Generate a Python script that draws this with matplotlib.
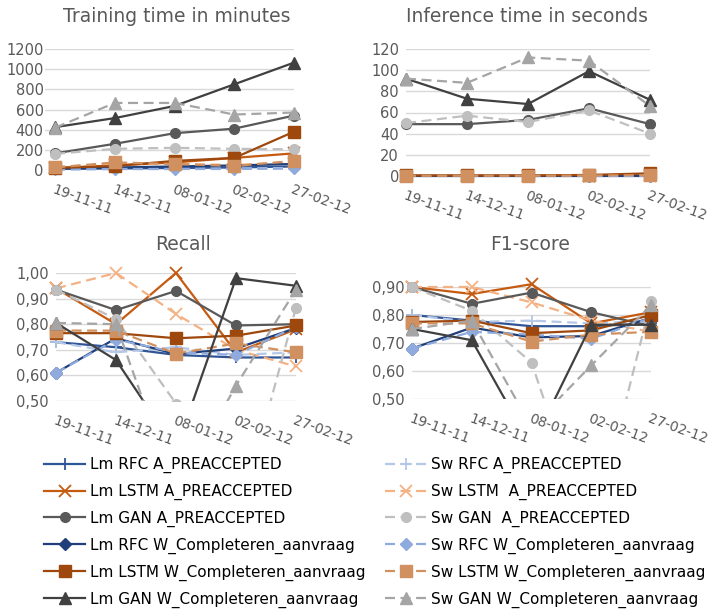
import numpy as np
import matplotlib
matplotlib.use("Agg")
from matplotlib import pyplot as plt
from matplotlib.patches import Rectangle

plt.rcParams["font.family"] = ["DejaVu Sans"]

dates = ["19-11-11", "14-12-11", "08-01-12", "02-02-12", "27-02-12"]

names = ["Lm RFC A_PREACCEPTED", "Lm LSTM A_PREACCEPTED", "Lm GAN A_PREACCEPTED",
         "Lm RFC W_Completeren_aanvraag", "Lm LSTM W_Completeren_aanvraag", "Lm GAN W_Completeren_aanvraag",
         "Sw RFC A_PREACCEPTED", "Sw LSTM  A_PREACCEPTED", "Sw GAN  A_PREACCEPTED",
         "Sw RFC W_Completeren_aanvraag", "Sw LSTM W_Completeren_aanvraag", "Sw GAN W_Completeren_aanvraag"]

# training time (minutes), same order as names
train_lm_rfc_a = [10, 15, 20, 25, 35]
train_lm_lstm_a = [20, 45, 75, 120, 165]
train_lm_gan_a = [165, 260, 365, 410, 540]
train_lm_rfc_w = [15, 25, 35, 45, 60]
train_lm_lstm_w = [20, 40, 90, 120, 380]
train_lm_gan_w = [425, 515, 635, 850, 1065]
train_sw_rfc_a = [5, 10, 10, 15, 20]
train_sw_lstm_a = [30, 60, 60, 50, 75]
train_sw_gan_a = [160, 210, 220, 210, 205]
train_sw_rfc_w = [5, 10, 10, 10, 15]
train_sw_lstm_w = [25, 75, 60, 40, 90]
train_sw_gan_w = [420, 665, 665, 550, 570]

# inference time (seconds)
inf_lm_rfc_a = [0.1, 0.1, 0.1, 0.1, 0.1]
inf_lm_lstm_a = [0.2, 0.2, 0.2, 0.3, 0.5]
inf_lm_gan_a = [49, 49, 53, 64, 49]
inf_lm_rfc_w = [0.1, 0.1, 0.1, 0.1, 0.2]
inf_lm_lstm_w = [0.5, 0.5, 0.5, 1.0, 2.5]
inf_lm_gan_w = [92, 73, 68, 99, 72]
inf_sw_rfc_a = [0.05, 0.05, 0.05, 0.05, 0.1]
inf_sw_lstm_a = [0.2, 0.2, 0.2, 0.3, 0.4]
inf_sw_gan_a = [50, 57, 51, 62, 40]
inf_sw_rfc_w = [0.05, 0.05, 0.05, 0.05, 0.1]
inf_sw_lstm_w = [0.3, 0.3, 0.3, 0.5, 0.8]
inf_sw_gan_w = [92, 88, 112, 109, 66]

# recall
rec_lm_rfc_a = [0.73, 0.71, 0.68, 0.67, 0.67]
rec_lm_lstm_a = [0.94, 0.80, 1.00, 0.69, 0.78]
rec_lm_gan_a = [0.935, 0.855, 0.93, 0.795, 0.80]
rec_lm_rfc_w = [0.61, 0.745, 0.683, 0.705, 0.785]
rec_lm_lstm_w = [0.765, 0.765, 0.745, 0.755, 0.795]
rec_lm_gan_w = [0.805, 0.66, 0.31, 0.98, 0.95]
rec_sw_rfc_a = [0.73, 0.69, 0.71, 0.68, 0.69]
rec_sw_lstm_a = [0.94, 1.00, 0.84, 0.70, 0.635]
rec_sw_gan_a = [0.935, 0.82, 0.49, 0.0, 0.865]
rec_sw_rfc_w = [0.61, 0.74, 0.69, 0.68, 0.79]
rec_sw_lstm_w = [0.775, 0.775, 0.685, 0.725, 0.69]
rec_sw_gan_w = [0.805, 0.80, 0.14, 0.56, 0.935]

# f1-score
f1_lm_rfc_a = [0.80, 0.78, 0.76, 0.76, 0.77]
f1_lm_lstm_a = [0.90, 0.875, 0.91, 0.77, 0.81]
f1_lm_gan_a = [0.90, 0.84, 0.88, 0.81, 0.76]
f1_lm_rfc_w = [0.68, 0.755, 0.72, 0.725, 0.79]
f1_lm_lstm_w = [0.775, 0.78, 0.735, 0.745, 0.80]
f1_lm_gan_w = [0.75, 0.71, 0.33, 0.765, 0.765]
f1_sw_rfc_a = [0.80, 0.775, 0.78, 0.77, 0.78]
f1_sw_lstm_a = [0.90, 0.90, 0.845, 0.78, 0.74]
f1_sw_gan_a = [0.90, 0.815, 0.63, 0.0, 0.85]
f1_sw_rfc_w = [0.68, 0.74, 0.73, 0.715, 0.79]
f1_sw_lstm_w = [0.77, 0.77, 0.705, 0.73, 0.74]
f1_sw_gan_w = [0.75, 0.78, 0.40, 0.62, 0.835]

train = [train_lm_rfc_a, train_lm_lstm_a, train_lm_gan_a, train_lm_rfc_w, train_lm_lstm_w, train_lm_gan_w,
         train_sw_rfc_a, train_sw_lstm_a, train_sw_gan_a, train_sw_rfc_w, train_sw_lstm_w, train_sw_gan_w]
inf = [inf_lm_rfc_a, inf_lm_lstm_a, inf_lm_gan_a, inf_lm_rfc_w, inf_lm_lstm_w, inf_lm_gan_w,
       inf_sw_rfc_a, inf_sw_lstm_a, inf_sw_gan_a, inf_sw_rfc_w, inf_sw_lstm_w, inf_sw_gan_w]
rec = [rec_lm_rfc_a, rec_lm_lstm_a, rec_lm_gan_a, rec_lm_rfc_w, rec_lm_lstm_w, rec_lm_gan_w,
       rec_sw_rfc_a, rec_sw_lstm_a, rec_sw_gan_a, rec_sw_rfc_w, rec_sw_lstm_w, rec_sw_gan_w]
f1 = [f1_lm_rfc_a, f1_lm_lstm_a, f1_lm_gan_a, f1_lm_rfc_w, f1_lm_lstm_w, f1_lm_gan_w,
      f1_sw_rfc_a, f1_sw_lstm_a, f1_sw_gan_a, f1_sw_rfc_w, f1_sw_lstm_w, f1_sw_gan_w]

colors = ["#2f5597", "#c55a11", "#595959", "#203f7a", "#9e480e", "#404040",
          "#b4c7e7", "#f4b183", "#bfbfbf", "#8faadc", "#d0905f", "#a5a5a5"]
markers = ["+", "x", "o", "D", "s", "^"] * 2
msizes = [9, 8, 7, 6, 8, 8] * 2
dashed = [False] * 6 + [True] * 6
# draw order: Lm then Sw of each kind
order = [0, 6, 1, 7, 2, 8, 3, 9, 4, 10, 5, 11]

W, H = 712, 612
fig = plt.figure(figsize=(W / 100, H / 100), dpi=100)
gray = "#595959"


def make_ax(l, r, t, b):
    return fig.add_axes([l / W, 1 - b / H, (r - l) / W, (b - t) / H])


panels = [
    (make_ax(45, 294, 49, 170), train, (-0.17, 4), (0, 1200), [0, 200, 400, 600, 800, 1000, 1200],
     ["0", "200", "400", "600", "800", "1000", "1200"], "Training time in minutes", 177, 17, False),
    (make_ax(406, 650, 49, 176), inf, (0, 4), (0, 120), [0, 20, 40, 60, 80, 100, 120],
     ["0", "20", "40", "60", "80", "100", "120"], "Inference time in seconds", 527, 17, False),
    (make_ax(56, 296, 273, 401), rec, (0, 4), (0.5, 1.0), [0.5, 0.6, 0.7, 0.8, 0.9, 1.0],
     ["0,50", "0,60", "0,70", "0,80", "0,90", "1,00"], "Recall", 183, 245, True),
    (make_ax(412, 651, 287, 399), f1, (0, 4), (0.5, 0.9), [0.5, 0.6, 0.7, 0.8, 0.9],
     ["0,50", "0,60", "0,70", "0,80", "0,90"], "F1-score", 530, 245, True),
]

x = np.arange(len(dates))
handles = []
for ax, data, xl, yl, yt, ytl, title, tx, ty, clip in panels:
    ax.set_xlim(*xl)
    ax.set_ylim(*yl)
    ax.set_yticks(yt)
    ax.set_yticklabels(ytl)
    ax.set_xticks(x)
    ax.set_xticklabels(dates, rotation=-20, ha="left", va="top", rotation_mode="anchor")
    ax.yaxis.grid(True, color="#d9d9d9", lw=1)
    ax.set_axisbelow(True)
    for s in ax.spines.values():
        s.set_visible(False)
    ax.tick_params(length=0, labelsize=10.5, labelcolor=gray)
    ax.tick_params(axis="y", pad=1 if xl[0] < 0 else 5)
    ax.tick_params(axis="x", pad=9, labelsize=10)
    box = Rectangle((-0.1, 0), 1.2, 1.5, transform=ax.transAxes)
    hs = [None] * 12
    for i in order:
        ls = (0, (4.5, 2.5)) if dashed[i] else "-"
        ln, = ax.plot(x, data[i], color=colors[i], lw=1.6, ls=ls, marker=markers[i],
                      markersize=msizes[i], markeredgewidth=1.3 if markers[i] in "+x" else 1,
                      label=names[i], clip_on=clip)
        if clip:
            ln.set_clip_path(box)
        hs[i] = ln
    handles = hs
    fig.text(tx / W, 1 - ty / H, title, ha="center", va="center", fontsize=13.5, color=gray)

leg_kw = dict(loc="upper left", frameon=False, fontsize=11, handlelength=2.7,
              handletextpad=0.3, labelspacing=0.7, borderpad=0, borderaxespad=0)
fig.legend(handles[:6], names[:6], bbox_to_anchor=(44 / W, 1 - 457 / H), **leg_kw)
fig.legend(handles[6:], names[6:], bbox_to_anchor=(385 / W, 1 - 457 / H), **leg_kw)

plt.savefig("out.png", dpi=100)
